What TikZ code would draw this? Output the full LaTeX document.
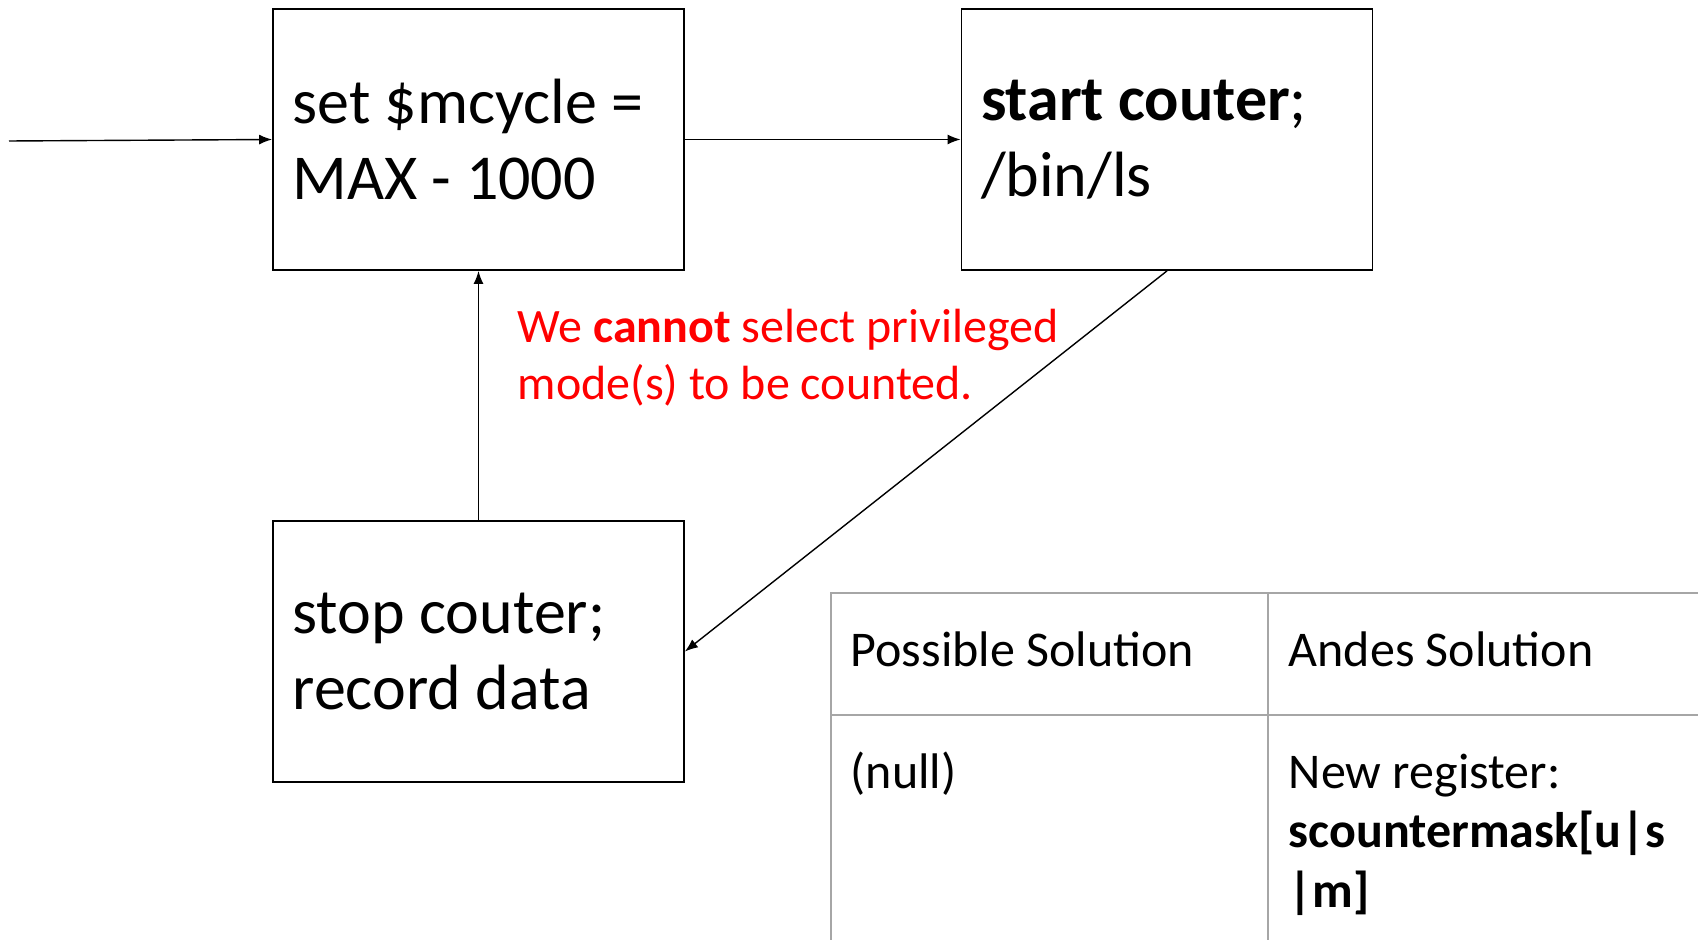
\documentclass[tikz,border=0pt]{standalone}
\usepackage{fontspec}
\setmainfont{Carlito}
\usepackage{tikz}
\usetikzlibrary{arrows.meta}
\tikzstyle{flow}=[x=0.5pt, y=-0.5pt, line width=0.7pt]
\tikzstyle{blk}=[rectangle, draw, line width=0.9pt, minimum width=205.5pt, minimum height=130.5pt, text width=186pt, align=flush left, inner sep=0pt, font=\fontsize{32}{38}\selectfont]
\tikzstyle{edge}=[-{Latex[length=6.5pt, width=5pt]}, line width=0.7pt]
\tikzstyle{note}=[anchor=west, align=left, inner sep=0pt, text=red, font=\fontsize{24}{28.5}\selectfont]
\tikzstyle{cell}=[anchor=base west, align=left, inner sep=0pt, font=\fontsize{25}{29.75}\selectfont]
\tikzstyle{rule}=[draw=black!35, line width=1pt]
\begin{document}
\begin{tikzpicture}[flow]
	\useasboundingbox (0,0) rectangle (1698,940);
	\draw (478.5,139.5) node[blk] (setm) {set \$mcycle =\\MAX - 1000};
	\draw (1167,139.5) node[blk] (start) {\textbf{start couter};\\/bin/ls};
	\draw (478.5,651.5) node[blk] (stop) {stop couter;\\record data};
	\coordinate (src) at (9,141);
	\draw[edge] (src) -- (setm.west);
	\draw[edge] (setm.east) -- (start.west);
	\draw[edge] (start.south) -- (stop.east);
	\draw[edge] (stop.north) -- (setm.south);
	\draw (517,358) node[note] (warn) {We \textbf{cannot} select privileged\\mode(s) to be counted.};
	\draw[rule] (1698,593) -- (831,593) -- (831,940);
	\draw[rule] (831,715) -- (1698,715);
	\draw[rule] (1268,593) -- (1268,940);
	\draw (850,667) node[cell] (hpos) {Possible Solution};
	\draw (1288,667) node[cell] (hand) {Andes Solution};
	\draw (850,788) node[cell] (cpos) {(null)};
	\draw (1288,907) node[cell] (cand) {New register:\\\textbf{scountermask[u|s}\\\textbf{|m]}};
\end{tikzpicture}
\end{document}
